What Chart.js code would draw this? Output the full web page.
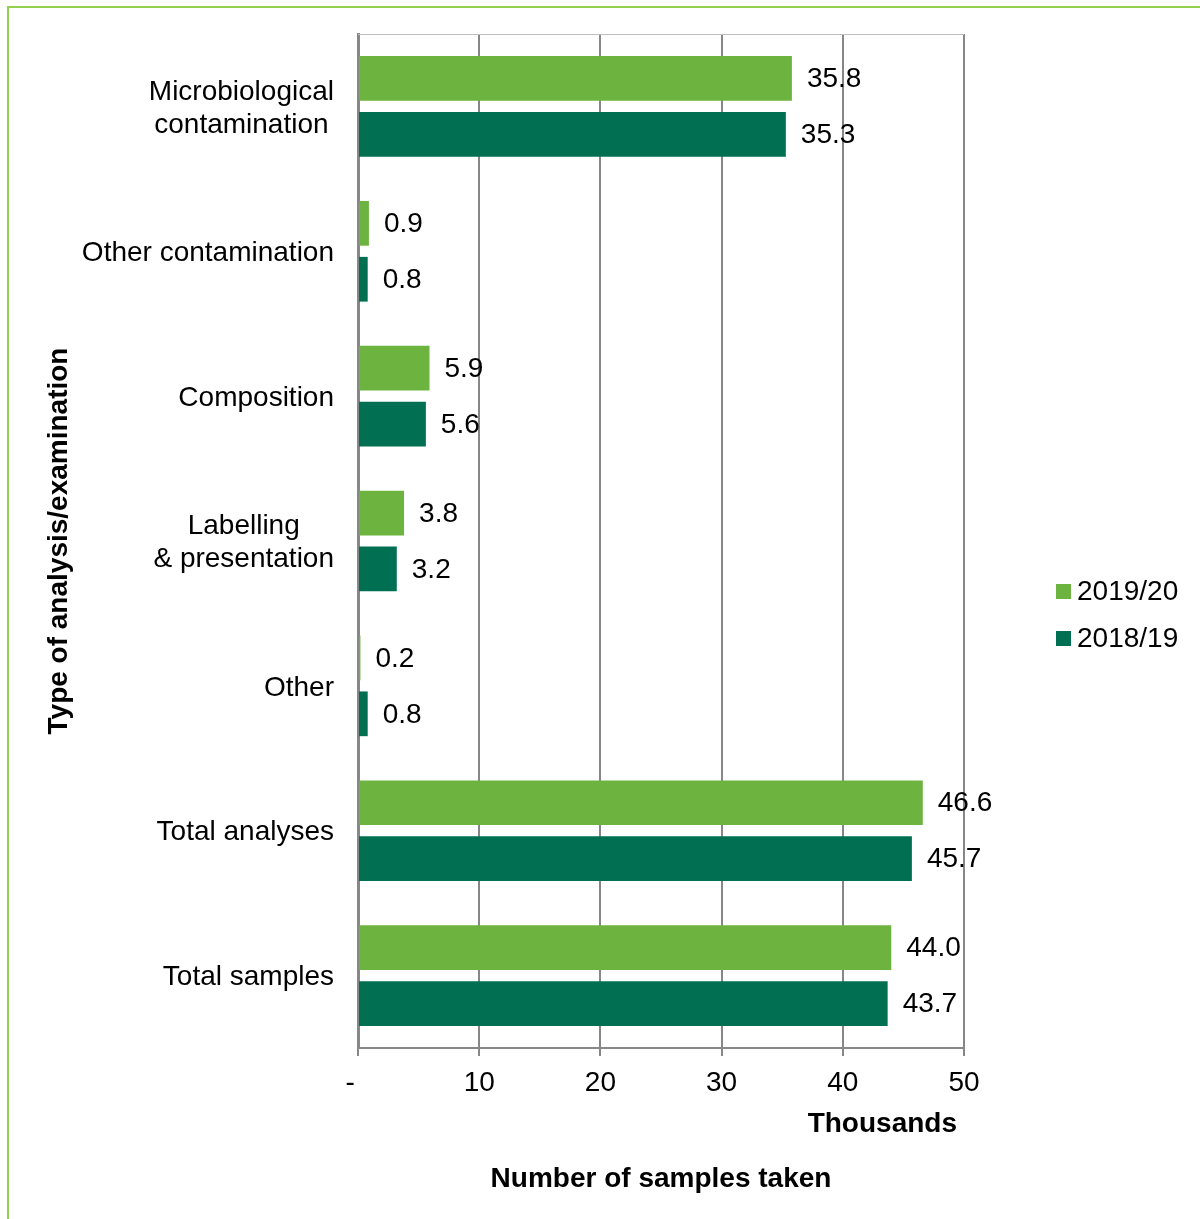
<!DOCTYPE html>
<html>
<head>
<meta charset="utf-8">
<script src="https://cdn.jsdelivr.net/npm/chart.js@4/dist/chart.umd.min.js"></script>
<style>
  html, body { margin: 0; padding: 0; background: #ffffff; }
  #wrap { position: relative; width: 1200px; height: 1219px; overflow: hidden; }
  #frame { position: absolute; left: 7px; top: 6px; width: 1400px; height: 1400px;
           border-left: 2px solid #92D050; border-top: 2px solid #92D050; box-sizing: border-box; }
  canvas { position: absolute; left: 0; top: 0; }
</style>
</head>
<body>
<div id="wrap">
  <div id="frame"></div>
  <canvas id="chart" width="1200" height="1219"></canvas>
</div>
<script>
// Categories of analysis / examination (multi-line labels as arrays)
const categories = [
  ["Microbiological", "contamination"],
  "Other contamination",
  "Composition",
  ["Labelling", "& presentation"],
  "Other",
  "Total analyses",
  "Total samples"
];

// Samples taken, thousands
const series2019 = [35.8, 0.9, 5.9, 3.8, 0.2, 46.6, 44.0];
const series2018 = [35.3, 0.8, 5.6, 3.2, 0.8, 45.7, 43.7];

const seriesNames = ["2019/20", "2018/19"];
const seriesColors = ["#6CB33F", "#006F52"];

const xTicks = [0, 10, 20, 30, 40, 50];

const FONT = '"Liberation Sans", Arial, sans-serif';
const FS = 28;
const GRID = "#878787";

// Category labels: each block right-aligned to the axis, lines centred within the block
const categoryLabels = {
  id: "categoryLabels",
  afterDraw(chart) {
    const ctx = chart.ctx;
    const y = chart.scales.y;
    const right = chart.chartArea.left - 24;
    const lh = 33;
    ctx.save();
    ctx.font = FS + "px " + FONT;
    ctx.fillStyle = "#000";
    ctx.textAlign = "center";
    ctx.textBaseline = "middle";
    categories.forEach((lab, i) => {
      const lines = Array.isArray(lab) ? lab : [lab];
      const w = Math.max(...lines.map(l => ctx.measureText(l).width));
      const cx = right - w / 2;
      const cy = y.getPixelForValue(i) + 2;
      const y0 = cy - (lines.length - 1) * lh / 2;
      lines.forEach((l, k) => ctx.fillText(l, cx, y0 + k * lh));
    });
    ctx.restore();
  }
};

// Value labels beside each bar, plus top frame line, "Thousands" and the legend
const extras = {
  id: "extras",
  beforeDatasetsDraw(chart) {
    const ctx = chart.ctx;
    const a = chart.chartArea;
    ctx.save();
    ctx.strokeStyle = "#BFBFBF";
    ctx.lineWidth = 1;
    ctx.beginPath();
    ctx.moveTo(a.left, a.top + 0.5);
    ctx.lineTo(a.right, a.top + 0.5);
    ctx.stroke();
    ctx.restore();
  },
  afterDatasetsDraw(chart) {
    const ctx = chart.ctx;
    ctx.save();
    ctx.font = FS + "px " + FONT;
    ctx.fillStyle = "#000";
    ctx.textAlign = "left";
    ctx.textBaseline = "middle";
    chart.data.datasets.forEach((ds, di) => {
      chart.getDatasetMeta(di).data.forEach((bar, i) => {
        ctx.fillText(ds.data[i].toFixed(1), bar.x + 15, bar.y + 1);
      });
    });

    // unit label under the axis
    ctx.font = "bold " + FS + "px " + FONT;
    ctx.textAlign = "right";
    ctx.fillText("Thousands", chart.chartArea.right - 7, 1124);

    // legend
    ctx.font = FS + "px " + FONT;
    ctx.textAlign = "left";
    seriesNames.forEach((name, k) => {
      const cy = 591 + k * 47;
      ctx.fillStyle = seriesColors[k];
      ctx.fillRect(1056, cy - 7, 15, 15);
      ctx.fillStyle = "#000";
      ctx.fillText(name, 1077, cy + 1);
    });
    ctx.restore();
  }
};

new Chart(document.getElementById("chart"), {
  type: "bar",
  data: {
    labels: categories,
    datasets: [
      { label: seriesNames[0], data: series2019, backgroundColor: seriesColors[0] },
      { label: seriesNames[1], data: series2018, backgroundColor: seriesColors[1] }
    ]
  },
  options: {
    indexAxis: "y",
    responsive: false,
    animation: false,
    devicePixelRatio: 1,
    categoryPercentage: 0.772,
    barPercentage: 0.80,
    layout: { padding: { top: 34, right: 236, bottom: 0, left: 0 } },
    plugins: { legend: { display: false }, tooltip: { enabled: false } },
    scales: {
      x: {
        type: "linear",
        min: 0,
        max: 50,
        afterBuildTicks(scale) { scale.ticks = xTicks.map(v => ({ value: v })); },
        afterFit(scale) { scale.height = 1219 - 1048; },
        grid: { color: GRID, lineWidth: 2, tickLength: 8, drawTicks: true },
        border: { display: true, color: GRID, width: 2 },
        ticks: {
          padding: 10,
          color: "#000",
          font: { family: FONT, size: FS },
          callback: v => (v === 0 ? "-  " : String(v))
        },
        title: {
          display: true,
          text: "Number of samples taken",
          color: "#000",
          font: { family: FONT, size: FS, weight: "bold" },
          padding: { top: 0, bottom: 23 }
        }
      },
      y: {
        type: "category",
        afterFit(scale) { scale.width = 358; },
        grid: { display: false },
        border: { display: true, color: GRID, width: 3 },
        ticks: { display: false },
        title: {
          display: true,
          text: "Type of analysis/examination",
          color: "#000",
          font: { family: FONT, size: FS, weight: "bold" },
          padding: { top: 42, bottom: 0 }
        }
      }
    }
  },
  plugins: [categoryLabels, extras]
});
</script>
</body>
</html>
